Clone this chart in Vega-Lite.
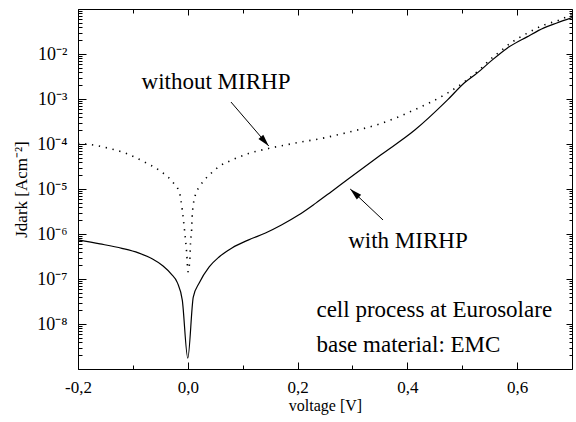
{
  "$schema": "https://vega.github.io/schema/vega-lite/v6.json",
  "width": 494,
  "height": 360,
  "autosize": {"type": "none"},
  "padding": {"left": 78, "top": 9, "right": 4, "bottom": 53},
  "background": "white",
  "config": {
    "view": {"stroke": null},
    "font": "Liberation Serif",
    "axis": {"grid": false, "domainColor": "black", "tickColor": "black", "labelColor": "black", "titleColor": "black", "domainWidth": 1, "tickWidth": 1, "labelFont": "Liberation Serif", "titleFont": "Liberation Serif", "titleFontWeight": "normal"}
  },
  "datasets": {
    "with": [
      {"V": -0.2, "J": 7.41e-7}, {"V": -0.16, "J": 6.03e-7}, {"V": -0.12, "J": 4.79e-7}, {"V": -0.09, "J": 3.8e-7},
      {"V": -0.065, "J": 2.82e-7}, {"V": -0.045, "J": 1.95e-7}, {"V": -0.03, "J": 1.29e-7}, {"V": -0.019, "J": 8.32e-8},
      {"V": -0.01, "J": 3.39e-8},
      {"V": 0.0, "J": 1.74e-9}, {"V": 0.01, "J": 3.98e-8}, {"V": 0.0208, "J": 8.13e-8}, {"V": 0.039, "J": 1.86e-7},
      {"V": 0.057, "J": 3.09e-7}, {"V": 0.0805, "J": 4.9e-7}, {"V": 0.111, "J": 7.41e-7}, {"V": 0.1416, "J": 1.05e-6},
      {"V": 0.1706, "J": 1.58e-6}, {"V": 0.2018, "J": 2.63e-6}, {"V": 0.2326, "J": 4.79e-6}, {"V": 0.2615, "J": 8.71e-6},
      {"V": 0.2923, "J": 1.66e-5}, {"V": 0.352, "J": 5.75e-5}, {"V": 0.4136, "J": 2.04e-4}, {"V": 0.4733, "J": 9.55e-4},
      {"V": 0.5041, "J": 2.29e-3}, {"V": 0.5276, "J": 3.8e-3}, {"V": 0.5511, "J": 6.76e-3}, {"V": 0.5819, "J": 1.35e-2},
      {"V": 0.6181, "J": 2.4e-2}, {"V": 0.6489, "J": 3.8e-2}, {"V": 0.6724, "J": 4.9e-2}, {"V": 0.7, "J": 6.46e-2}
    ],
    "without": [
      {"V": -0.2, "J": 1.02e-4}, {"V": -0.187, "J": 1.0e-4}, {"V": -0.146, "J": 8.13e-5}, {"V": -0.11, "J": 6.03e-5},
      {"V": -0.079, "J": 3.98e-5}, {"V": -0.048, "J": 2.4e-5}, {"V": -0.028, "J": 1.45e-5}, {"V": -0.015, "J": 8.13e-6},
      {"V": -0.01, "J": 3.39e-6}, {"V": -0.006, "J": 1.23e-6}, {"V": -0.002, "J": 3.8e-7}, {"V": 0.0005, "J": 1.45e-7},
      {"V": 0.004, "J": 3.09e-7}, {"V": 0.005, "J": 6.31e-7}, {"V": 0.007, "J": 1.23e-6}, {"V": 0.008, "J": 2.4e-6},
      {"V": 0.01, "J": 4.37e-6}, {"V": 0.015, "J": 8.13e-6}, {"V": 0.0208, "J": 1.1e-5}, {"V": 0.03, "J": 1.58e-5},
      {"V": 0.039, "J": 2.04e-5}, {"V": 0.057, "J": 3.16e-5}, {"V": 0.08, "J": 4.37e-5}, {"V": 0.111, "J": 6.17e-5},
      {"V": 0.147, "J": 7.94e-5}, {"V": 0.2, "J": 1.07e-4}, {"V": 0.25, "J": 1.38e-4}, {"V": 0.292, "J": 1.82e-4},
      {"V": 0.353, "J": 2.88e-4}, {"V": 0.413, "J": 5.75e-4}, {"V": 0.473, "J": 1.35e-3}, {"V": 0.504, "J": 2.4e-3},
      {"V": 0.534, "J": 4.79e-3}, {"V": 0.552, "J": 7.76e-3}, {"V": 0.564, "J": 1.02e-2}, {"V": 0.588, "J": 1.74e-2},
      {"V": 0.618, "J": 2.88e-2}, {"V": 0.648, "J": 4.37e-2}, {"V": 0.678, "J": 5.75e-2}, {"V": 0.7, "J": 7.59e-2}
    ],
    "notes": [
      {"V": -0.0842, "J": 1.667e-3, "text": "without MIRHP"},
      {"V": 0.2923, "J": 4.81e-7, "text": "with MIRHP"},
      {"V": 0.2344, "J": 1.43e-8, "text": "cell process at Eurosolare"},
      {"V": 0.2344, "J": 2.39e-9, "text": "base material: EMC"}
    ],
    "arrows": [
      {"label": "without", "V1": 0.0787, "J1": 8.57e-4, "V2": 0.1475, "J2": 9.03e-5},
      {"label": "with", "V1": 0.3557, "J1": 2.05e-6, "V2": 0.2959, "J2": 1.0e-5}
    ]
  },
  "resolve": {"axis": {"x": "independent", "y": "independent"}},
  "layer": [
    {
      "data": {"name": "with"},
      "mark": {"type": "line", "color": "black", "strokeWidth": 1.2, "interpolate": "monotone", "clip": true},
      "encoding": {
        "x": {
          "field": "V", "type": "quantitative",
          "scale": {"domain": [-0.2, 0.7], "nice": false, "zero": false},
          "axis": {
            "orient": "bottom",
            "values": [-0.2, -0.1, 0, 0.1, 0.2, 0.3, 0.4, 0.5, 0.6],
            "tickSize": {"condition": {"test": "abs(round(datum.value*10)) % 2 == 0", "value": -7}, "value": -4},
            "labelExpr": "abs(round(datum.value*10)) % 2 == 0 ? replace(replace(format(datum.value, '.1f'), '.', ','), '\u2212', '-') : ''",
            "labelPadding": 30,
            "labelBaseline": "alphabetic",
            "labelFontSize": 17,
            "labelFlush": false,
            "labelOverlap": false,
            "title": "voltage [V]",
            "titleFontSize": 16,
            "titleY": 41,
            "titleBaseline": "alphabetic"
          }
        },
        "y": {
          "field": "J", "type": "quantitative",
          "scale": {"type": "log", "domain": [1e-9, 1e-1], "nice": false},
          "axis": {
            "orient": "left",
            "values": [1e-9,2e-9,3e-9,4e-9,5e-9,6e-9,7e-9,8e-9,9e-9,1e-8,2e-8,3e-8,4e-8,5e-8,6e-8,7e-8,8e-8,9e-8,1e-7,2e-7,3e-7,4e-7,5e-7,6e-7,7e-7,8e-7,9e-7,1e-6,2e-6,3e-6,4e-6,5e-6,6e-6,7e-6,8e-6,9e-6,1e-5,2e-5,3e-5,4e-5,5e-5,6e-5,7e-5,8e-5,9e-5,1e-4,2e-4,3e-4,4e-4,5e-4,6e-4,7e-4,8e-4,9e-4,1e-3,2e-3,3e-3,4e-3,5e-3,6e-3,7e-3,8e-3,9e-3,1e-2,2e-2,3e-2,4e-2,5e-2,6e-2,7e-2,8e-2,9e-2,1e-1],
            "tickSize": {"condition": {"test": "abs(log(datum.value)/LN10 - round(log(datum.value)/LN10)) < 0.01", "value": -8}, "value": -4},
            "labelExpr": "abs(log(datum.value)/LN10 - round(log(datum.value)/LN10)) < 0.01 && round(log(datum.value)/LN10) >= -8 && round(log(datum.value)/LN10) <= -2 ? '10\u207b' + ['\u2070','\u00b9','\u00b2','\u00b3','\u2074','\u2075','\u2076','\u2077','\u2078','\u2079'][-round(log(datum.value)/LN10)] : ''",
            "labelPadding": 19,
            "labelFontSize": 18,
            "labelOverlap": false,
            "labelFlush": false,
            "labelBaseline": "middle",
            "title": "Jdark [Acm\u207b\u00b2]",
            "titleFontSize": 17,
            "titlePadding": 6
          }
        }
      }
    },
    {
      "data": {"name": "without"},
      "mark": {"type": "line", "color": "black", "strokeWidth": 1.6, "strokeDash": [1.3, 5.7], "strokeCap": "butt", "interpolate": "monotone", "clip": true},
      "encoding": {
        "x": {
          "field": "V", "type": "quantitative",
          "axis": {
            "orient": "top",
            "values": [-0.2, -0.1, 0, 0.1, 0.2, 0.3, 0.4, 0.5, 0.6],
            "tickSize": {"condition": {"test": "abs(round(datum.value*10)) % 2 == 0", "value": -6}, "value": -4},
            "labels": false,
            "title": null
          }
        },
        "y": {
          "field": "J", "type": "quantitative",
          "axis": {
            "orient": "right",
            "values": [1e-9,2e-9,3e-9,4e-9,5e-9,6e-9,7e-9,8e-9,9e-9,1e-8,2e-8,3e-8,4e-8,5e-8,6e-8,7e-8,8e-8,9e-8,1e-7,2e-7,3e-7,4e-7,5e-7,6e-7,7e-7,8e-7,9e-7,1e-6,2e-6,3e-6,4e-6,5e-6,6e-6,7e-6,8e-6,9e-6,1e-5,2e-5,3e-5,4e-5,5e-5,6e-5,7e-5,8e-5,9e-5,1e-4,2e-4,3e-4,4e-4,5e-4,6e-4,7e-4,8e-4,9e-4,1e-3,2e-3,3e-3,4e-3,5e-3,6e-3,7e-3,8e-3,9e-3,1e-2,2e-2,3e-2,4e-2,5e-2,6e-2,7e-2,8e-2,9e-2,1e-1],
            "tickSize": {"condition": {"test": "abs(log(datum.value)/LN10 - round(log(datum.value)/LN10)) < 0.01", "value": -6}, "value": -3},
            "labels": false,
            "title": null
          }
        }
      }
    },
    {
      "data": {"name": "arrows"},
      "mark": {"type": "rule", "color": "black", "strokeWidth": 1},
      "encoding": {
        "x": {"field": "V1", "type": "quantitative", "axis": null},
        "y": {"field": "J1", "type": "quantitative", "axis": null},
        "x2": {"field": "V2"},
        "y2": {"field": "J2"}
      }
    },
    {
      "data": {"name": "arrows"},
      "transform": [{"filter": "datum.label == 'without'"}],
      "mark": {"type": "point", "filled": true, "color": "black", "opacity": 1, "shape": "M0,0L-0.32,1.2L0.32,1.2Z", "size": 400, "angle": 139},
      "encoding": {
        "x": {"field": "V2", "type": "quantitative", "axis": null},
        "y": {"field": "J2", "type": "quantitative", "axis": null}
      }
    },
    {
      "data": {"name": "arrows"},
      "transform": [{"filter": "datum.label == 'with'"}],
      "mark": {"type": "point", "filled": true, "color": "black", "opacity": 1, "shape": "M0,0L-0.32,1.2L0.32,1.2Z", "size": 400, "angle": 313},
      "encoding": {
        "x": {"field": "V2", "type": "quantitative", "axis": null},
        "y": {"field": "J2", "type": "quantitative", "axis": null}
      }
    },
    {
      "data": {"name": "notes"},
      "mark": {"type": "text", "align": "left", "baseline": "alphabetic", "font": "Liberation Serif", "fontSize": 23, "color": "black"},
      "encoding": {
        "x": {"field": "V", "type": "quantitative", "axis": null},
        "y": {"field": "J", "type": "quantitative", "axis": null},
        "text": {"field": "text"}
      }
    }
  ]
}
